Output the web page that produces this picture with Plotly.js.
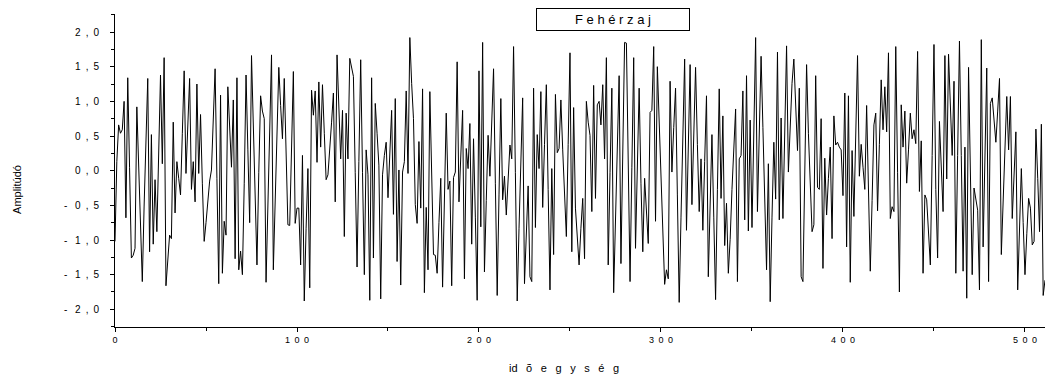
<!DOCTYPE html>
<html>
<head>
<meta charset="utf-8">
<script src="https://cdn.plot.ly/plotly-3.0.1.min.js"></script>
<style>html,body{margin:0;padding:0;background:#fff;}#chart{width:1048px;height:379px;}</style>
</head>
<body>
<div id="chart"></div>
<script>
// Amplitude values of the white-noise series (time units 0..511)
const amplitude = [
-1.02,0.13,0.66,0.54,0.59,1.00,-0.68,1.34,0.05,-1.26,
-1.22,-1.12,0.92,0.13,-0.75,-1.60,-0.51,0.46,1.33,-1.17,
0.52,-1.06,-0.13,-0.88,0.30,1.38,0.10,1.63,-1.66,-1.23,
-0.93,-0.98,0.70,-0.61,0.13,-0.11,-0.35,0.54,1.44,-0.04,
0.70,1.33,-0.27,0.13,-0.45,1.25,-0.04,0.81,-0.19,-1.02,
-0.75,-0.43,-0.15,0.01,0.78,1.47,-0.11,-1.63,1.09,-1.48,
-0.73,-0.93,1.21,0.62,0.05,1.02,-1.27,1.34,-1.43,-1.16,
-1.50,-0.19,1.38,0.30,-0.75,1.66,0.70,-0.35,-1.36,-0.03,
1.08,0.86,0.75,-1.61,-0.51,0.62,1.67,-1.43,-0.43,0.54,
1.49,0.94,0.46,1.33,0.30,-0.78,-0.79,0.30,1.43,-0.76,
-0.54,-0.54,-1.36,0.22,-1.88,-0.83,0.03,-1.69,1.16,0.80,
1.15,0.12,1.28,0.34,1.24,0.54,-0.13,-0.06,0.27,0.70,
1.12,-0.45,1.67,0.86,0.17,0.87,-0.95,0.83,0.17,1.62,
1.50,1.36,-0.03,-1.39,0.13,1.60,-0.03,-1.50,0.30,-0.06,
-1.87,1.34,-1.26,0.97,0.54,0.08,-1.85,-0.06,0.22,0.41,
-0.39,0.30,0.87,-0.63,1.04,-1.31,0.01,-1.65,-0.02,0.13,
1.15,-0.04,1.92,1.26,0.75,-0.49,-0.76,0.42,-0.54,1.18,
-1.76,-0.53,-1.43,1.14,-0.03,-1.21,-1.22,-1.48,-0.75,-0.11,
-1.68,-0.43,0.83,-0.27,-0.15,-1.66,-0.10,-0.02,1.57,-0.45,
0.22,0.87,-1.56,0.32,0.03,0.68,-1.06,0.46,-0.67,-1.87,
1.44,-0.81,1.85,-1.46,-0.43,0.51,-0.08,0.70,1.47,-0.19,
-1.80,-0.35,1.04,-0.42,-0.08,-0.64,-0.11,0.37,0.17,1.79,
-0.03,-1.88,-0.83,0.13,1.05,-1.63,-0.91,-0.22,-1.53,-1.60,
1.19,-0.82,0.52,0.03,1.14,-0.53,0.38,1.24,-0.27,-1.72,
0.03,-1.21,1.10,0.26,0.32,1.02,0.30,-0.35,-0.95,0.38,
1.70,-1.17,0.91,-0.54,-0.91,-1.36,-0.83,-0.40,-1.27,1.00,
0.70,0.51,-0.59,1.23,-0.40,0.95,1.00,0.66,1.24,0.17,
1.63,-1.36,-0.03,1.19,-1.76,-0.67,0.46,1.37,-1.34,0.38,
1.85,1.84,-0.03,-1.60,0.05,1.63,-1.12,0.05,1.19,-0.19,
-1.17,-0.11,-0.59,-1.05,0.84,0.87,1.79,-0.73,1.50,0.78,
-0.03,-0.83,-1.64,-1.43,-1.56,1.29,-0.02,0.62,1.19,-0.35,
-1.90,-0.67,0.62,1.61,-0.86,0.38,1.53,-0.49,0.46,1.49,
0.38,-0.59,0.17,-0.86,0.13,1.08,-1.53,-0.51,0.52,-0.67,
-1.86,-0.27,1.18,-0.40,0.79,-1.08,-0.47,-1.48,-0.99,-0.27,
0.38,0.89,-1.60,0.17,0.22,1.15,-0.71,1.37,-0.87,0.73,
-0.82,0.62,1.92,-0.59,0.54,1.65,0.62,-0.43,-1.43,0.10,
-1.89,-0.67,0.41,-0.41,1.71,-0.71,0.76,-0.69,0.54,1.80,
-0.02,0.70,1.26,1.61,0.94,0.29,1.19,-1.53,-1.60,-0.03,
1.53,0.54,-0.27,-0.88,-0.78,1.37,-0.24,-0.27,0.75,-1.41,
0.18,-0.64,-0.11,0.34,-0.98,0.79,0.37,0.41,0.34,0.30,
-0.36,1.12,-1.10,1.08,-1.61,0.29,-0.66,0.46,1.66,-0.08,
0.38,0.05,-0.27,0.94,-0.27,-1.45,-0.43,0.66,0.83,-0.58,
0.38,1.31,0.59,1.21,0.56,1.70,-0.69,-0.52,-0.59,1.79,
-0.03,-1.75,0.95,0.34,0.86,-0.18,0.30,0.83,0.46,0.59,
0.39,1.72,-0.30,0.43,-1.48,-0.35,-0.42,-0.91,-1.36,0.22,
1.82,-0.27,-1.26,0.71,-0.03,-0.59,1.66,-0.12,1.68,0.94,
0.22,1.29,-1.48,0.22,1.87,0.22,-1.45,0.34,-1.84,1.49,
-0.03,-1.50,-0.25,-0.39,-0.57,-1.72,1.89,-1.10,0.22,1.48,
-1.60,0.97,1.05,0.70,0.41,0.86,1.33,-1.21,-0.43,0.38,
1.07,0.30,1.07,-0.69,-0.03,0.56,-1.72,-0.83,0.03,-0.75,
-1.50,-0.91,-0.40,-0.54,-1.07,-1.02,0.60,-0.11,-0.88,0.67,
-1.80,-1.58
];
const timeUnits = amplitude.map((_, i) => i);

const xTickVals = [0, 100, 200, 300, 400, 500];
const xTickText = ["0", "1\u20020\u20020", "2\u20020\u20020", "3\u20020\u20020", "4\u20020\u20020", "5\u20020\u20020"];
const yTickVals = [-2, -1.5, -1, -0.5, 0, 0.5, 1, 1.5, 2];
const yTickText = ["-\u2002 2\u2002,\u20020", "-\u2002 1\u2002,\u20025", "-\u2002 1\u2002,\u20020", "-\u2002 0\u2002,\u20025",
                   "0\u2002,\u20020", "0\u2002,\u20025", "1\u2002,\u20020", "1\u2002,\u20025", "2\u2002,\u20020"];

const chartTitle = "F e h é r z a j";
const xTitle = "id\u2002 õ\u2002 e\u2002 g\u2002 y\u2002 s\u2002 é\u2002 g";
const yTitle = "Amplitúdó";

const trace = {
  x: timeUnits,
  y: amplitude,
  type: "scatter",
  mode: "lines",
  line: {color: "#000000", width: 1},
  hoverinfo: "skip"
};

const fontFam = "Liberation Sans, Arial, sans-serif";

const layout = {
  width: 1048,
  height: 379,
  margin: {l: 115, r: 3, t: 14, b: 52, pad: 0},
  paper_bgcolor: "#ffffff",
  plot_bgcolor: "#ffffff",
  showlegend: false,
  font: {family: fontFam, size: 10, color: "#000000"},
  xaxis: {
    range: [0, 511],
    tickvals: xTickVals,
    ticktext: xTickText,
    ticks: "outside",
    ticklen: 4,
    tickcolor: "#000",
    showgrid: false,
    zeroline: false,
    showline: true,
    linecolor: "#000",
    linewidth: 1,
    mirror: false,
    minor: {dtick: 50, ticks: "outside", ticklen: 3, tickcolor: "#000", showgrid: false},
    tickfont: {family: fontFam, size: 9}
  },
  yaxis: {
    range: [-2.255, 2.26],
    tickvals: yTickVals,
    ticktext: yTickText,
    ticks: "outside",
    ticklen: 4,
    tickcolor: "#000",
    ticklabelstandoff: 9,
    showgrid: false,
    zeroline: false,
    showline: true,
    linecolor: "#000",
    linewidth: 1,
    minor: {dtick: 0.25, tick0: 0, ticks: "outside", ticklen: 3, tickcolor: "#000", showgrid: false},
    tickfont: {family: fontFam, size: 10}
  },
  annotations: [
    {
      text: chartTitle,
      xref: "paper", yref: "paper",
      x: 0.5355, y: 0.981,
      xanchor: "center", yanchor: "middle",
      showarrow: false,
      font: {family: fontFam, size: 13, color: "#000"},
      bgcolor: "#ffffff",
      bordercolor: "#000000",
      borderwidth: 1,
      borderpad: 3,
      width: 146,
      height: 15
    },
    {
      text: xTitle,
      xref: "paper", yref: "paper",
      x: 0.4828, y: -0.131,
      xanchor: "center", yanchor: "middle",
      showarrow: false,
      font: {family: fontFam, size: 11, color: "#000"}
    },
    {
      text: yTitle,
      xref: "paper", yref: "paper",
      x: -0.1054, y: 0.441,
      xanchor: "center", yanchor: "middle",
      textangle: -90,
      showarrow: false,
      font: {family: fontFam, size: 11, color: "#000"}
    }
  ]
};

Plotly.newPlot("chart", [trace], layout, {displayModeBar: false, staticPlot: true});
</script>
</body>
</html>
